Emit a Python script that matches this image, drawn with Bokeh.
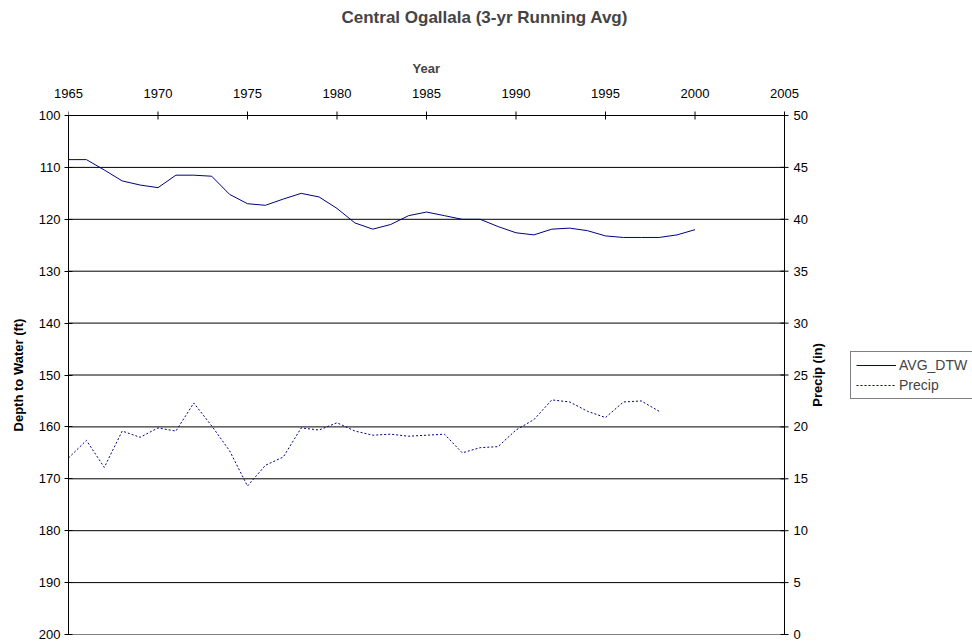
import math
from bokeh.plotting import figure
from bokeh.models import Range1d, FixedTicker, Legend, LegendItem, Title
from bokeh.core.properties import value
from bokeh.embed import file_html
from bokeh.resources import INLINE

# ---- data ----
dtw_years = list(range(1965, 2001))
avg_dtw = [108.5, 108.5, 110.5, 112.6, 113.4, 113.9, 111.5, 111.5, 111.7, 115.2,
           117.0, 117.3, 116.1, 115.0, 115.7, 117.9, 120.7, 121.9, 121.0, 119.3,
           118.6, 119.3, 120.0, 120.0, 121.4, 122.6, 123.0, 121.9, 121.7, 122.2,
           123.2, 123.5, 123.5, 123.5, 123.0, 122.0]
precip_years = list(range(1965, 1999))
precip = [17.0, 18.7, 16.1, 19.6, 19.0, 19.9, 19.6, 22.3, 20.1, 17.7,
          14.3, 16.3, 17.1, 19.9, 19.7, 20.4, 19.6, 19.2, 19.3, 19.1,
          19.2, 19.3, 17.5, 18.0, 18.1, 19.7, 20.7, 22.6, 22.4, 21.5,
          20.9, 22.4, 22.5, 21.5]
year_ticks = [1965, 1970, 1975, 1980, 1985, 1990, 1995, 2000, 2005]
depth_ticks = [100, 110, 120, 130, 140, 150, 160, 170, 180, 190, 200]
precip_ticks = [0, 5, 10, 15, 20, 25, 30, 35, 40, 45, 50]

FONT = "Liberation Sans"
NAVY = "#000080"

# ---- layout geometry (pixels) ----
W, H = 972, 644
LEFT, TOP, BOTTOM_PAD = 68, 107, 2
PLOT_W = 716          # width of the 1965-2005 plot area
PLOT_H = 519          # height of the 100-200 ft plot area
PAD_Y = 8             # frame extends this far beyond the plot area (top & bottom)
FRAME_W = W - LEFT

x0, x1 = year_ticks[0], year_ticks[-1]
x_end = x0 + (x1 - x0) * FRAME_W / PLOT_W
d0, d1 = depth_ticks[0], depth_ticks[-1]
dppu = PLOT_H / (d1 - d0)
p0, p1 = precip_ticks[0], precip_ticks[-1]
pppu = PLOT_H / (p1 - p0)

p = figure(width=W, height=H, output_backend="svg", toolbar_location=None,
           x_range=Range1d(x0, x_end),
           y_range=Range1d(d1 + PAD_Y / dppu, d0 - PAD_Y / dppu),
           x_axis_location="above",
           min_border_left=LEFT, min_border_right=0, min_border_top=TOP,
           min_border_bottom=BOTTOM_PAD)
p.extra_y_ranges = {"precip": Range1d(p0 - PAD_Y / pppu, p1 + PAD_Y / pppu)}
p.background_fill_color = "white"
p.border_fill_color = "white"
p.outline_line_color = None
p.xgrid.visible = False
p.ygrid.visible = False

# ---- texts above the plot: axis title "Year", spacer, main title ----
year_title = Title(text="Year", text_font=FONT, text_font_size="13px",
                   text_font_style="bold", align="left", offset=344, standoff=19)
p.add_layout(year_title, "above")
spacer = Title(text=" ", text_font=FONT, text_font_size="13px", standoff=4)
p.add_layout(spacer, "above")
main_title = Title(text="Central Ogallala (3-yr Running Avg)", text_font=FONT,
                   text_font_size="17px", text_font_style="bold",
                   align="left", offset=273, standoff=4)
p.add_layout(main_title, "above")

# ---- top x axis (labels only; line and ticks drawn on the 100 ft line) ----
xa = p.xaxis[0]
xa.ticker = FixedTicker(ticks=year_ticks)
xa.bounds = (x0, x1)
xa.axis_line_color = None
xa.major_tick_line_color = None
xa.minor_tick_line_color = None
xa.major_tick_in = 0
xa.major_tick_out = 0
xa.major_label_standoff = 10

# ---- left y axis ----
ya = p.yaxis[0]
ya.ticker = FixedTicker(ticks=depth_ticks)
ya.bounds = (d0, d1)
ya.axis_label = "Depth to Water (ft)"
ya.axis_line_color = "black"
ya.major_tick_line_color = "black"
ya.minor_tick_line_color = None
ya.major_tick_in = 4
ya.major_tick_out = 4
ya.major_label_standoff = 4
ya.axis_label_standoff = 10

for ax in (xa, ya):
    ax.major_label_text_font = FONT
    ax.major_label_text_font_size = "13px"
    ax.major_label_text_color = "black"
    ax.axis_label_text_font = FONT
    ax.axis_label_text_font_size = "13px"
    ax.axis_label_text_font_style = "bold"
    ax.axis_label_text_color = "black"

# ---- plot-area frame lines, gridlines and the right (precip) axis ----
inner = depth_ticks[1:-1]
p.segment(x0=[x0] * len(inner), y0=inner, x1=[x1] * len(inner), y1=inner,
          line_color="black", line_width=1)
p.segment(x0=[x0], y0=[d1], x1=[x1], y1=[d1], line_color="#808080", line_width=1)
p.segment(x0=[x0], y0=[d0], x1=[x1], y1=[d0], line_color="black", line_width=1)
p.scatter(x=year_ticks, y=[d0] * len(year_ticks), marker="dash", angle=math.pi / 2,
          size=8, line_color="black", line_width=1)

p.segment(x0=[x1], y0=[p0], x1=[x1], y1=[p1], y_range_name="precip",
          line_color="black", line_width=1)
p.scatter(x=[x1] * len(precip_ticks), y=precip_ticks, y_range_name="precip",
          marker="dash", size=8, line_color="black", line_width=1)
p.text(x=[x1] * len(precip_ticks), y=precip_ticks, text=[str(t) for t in precip_ticks],
       y_range_name="precip", x_offset=9, text_align="left", text_baseline="middle",
       text_font=value(FONT), text_font_size="13px", text_color="black")
p.text(x=[x1], y=[(p0 + p1) / 2], text=["Precip (in)"], y_range_name="precip",
       angle=math.pi / 2, x_offset=33, text_align="center", text_baseline="middle",
       text_font=value(FONT), text_font_size="13px", text_font_style="bold",
       text_color="black")

# ---- data lines ----
r1 = p.line(dtw_years, avg_dtw, line_color=NAVY, line_width=1.0)
r2 = p.line(precip_years, precip, y_range_name="precip", line_color=NAVY,
            line_width=1.0, line_dash="2 2")

legend = Legend(items=[LegendItem(label="AVG_DTW", renderers=[r1]),
                       LegendItem(label="Precip", renderers=[r2])],
                location=(782, 243))
legend.label_text_font = FONT
legend.label_text_font_size = "14px"
legend.glyph_width = 40
legend.glyph_height = 16
legend.label_height = 16
legend.label_standoff = 3
legend.spacing = 4
legend.padding = 5
legend.margin = 0
legend.border_line_color = "black"
legend.border_line_width = 1
legend.background_fill_alpha = 1.0
p.add_layout(legend, "center")

open("out.html", "w").write(file_html(p, INLINE))
